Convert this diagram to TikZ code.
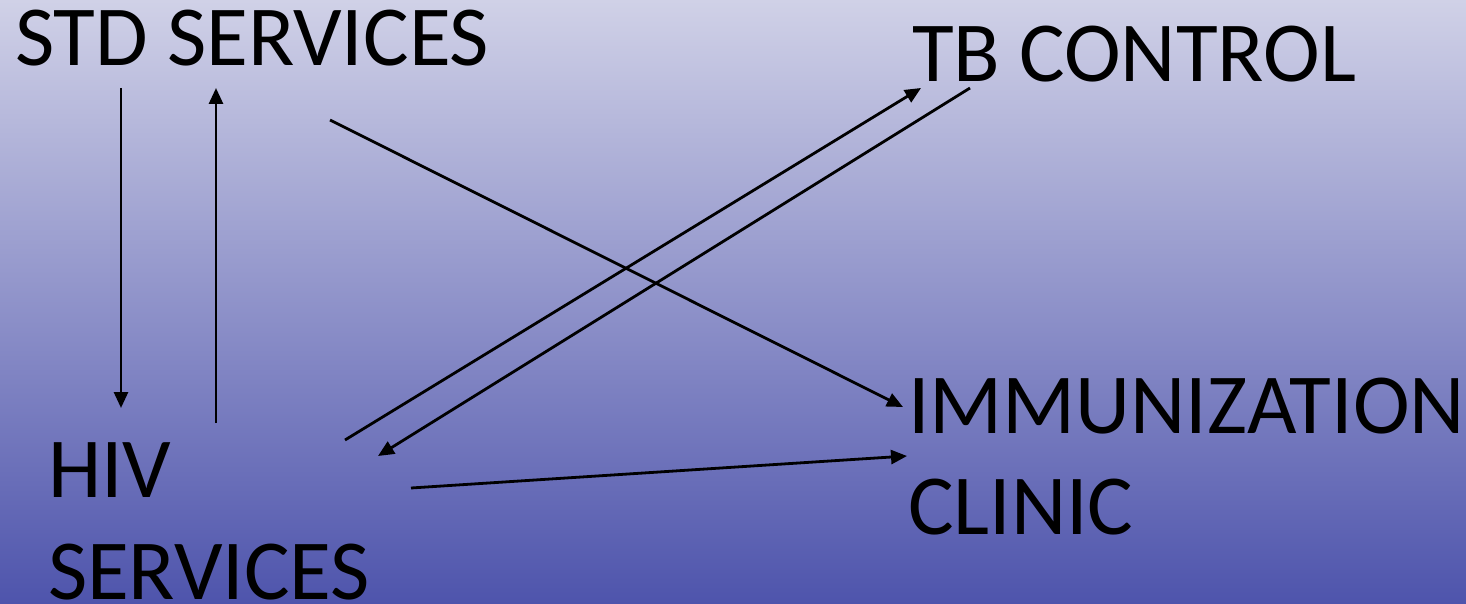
\documentclass[tikz,border=0pt]{standalone}
\usepackage{fontspec}
\setmainfont{Carlito}
\usetikzlibrary{arrows.meta}
\definecolor{bgtop}{RGB}{208,209,231}
\definecolor{bgmid}{RGB}{152,155,203}
\definecolor{bgbot}{RGB}{78,84,172}
\begin{document}
\begin{tikzpicture}[x=1pt,y=-1pt,
  lbl/.style={inner sep=0pt,outer sep=0pt,anchor=base west,font=\fontsize{85.5}{100}\selectfont,text=black},
  conn/.style={draw=black,line width=2.8pt,-{Triangle[length=16pt,width=14pt]}}]
\shade[top color=bgtop,middle color=bgmid,bottom color=bgbot,draw=none] (0,0) rectangle (1466,604);
\useasboundingbox (0,0) rectangle (1466,604);
\node[lbl] (std) at (15,66) {STD SERVICES};
\node[lbl] (tb) at (912,82) {TB CONTROL};
\node[lbl] (immA) at (908,433) {IMMUNIZATION};
\node[lbl] (immB) at (908,534) {CLINIC};
\node[lbl] (hivA) at (48,497) {HIV};
\node[lbl] (hivB) at (48,599) {SERVICES};
% connector end points
\coordinate (stdDown) at (121,88);
\coordinate (hivDown) at (121,408);
\coordinate (hivUp) at (216,423);
\coordinate (stdUp) at (216,88);
\coordinate (stdImm) at (330,120);
\coordinate (immStd) at (903,407);
\coordinate (hivTb) at (345,440);
\coordinate (tbHiv) at (921,88);
\coordinate (tbOut) at (970,88);
\coordinate (hivIn) at (378,456);
\coordinate (hivImm) at (411,488);
\coordinate (immHiv) at (907,456);
\draw[conn] (stdDown) -- (hivDown);
\draw[conn] (hivUp) -- (stdUp);
\draw[conn] (stdImm) -- (immStd);
\draw[conn] (hivTb) -- (tbHiv);
\draw[conn] (tbOut) -- (hivIn);
\draw[conn] (hivImm) -- (immHiv);
\end{tikzpicture}
\end{document}
